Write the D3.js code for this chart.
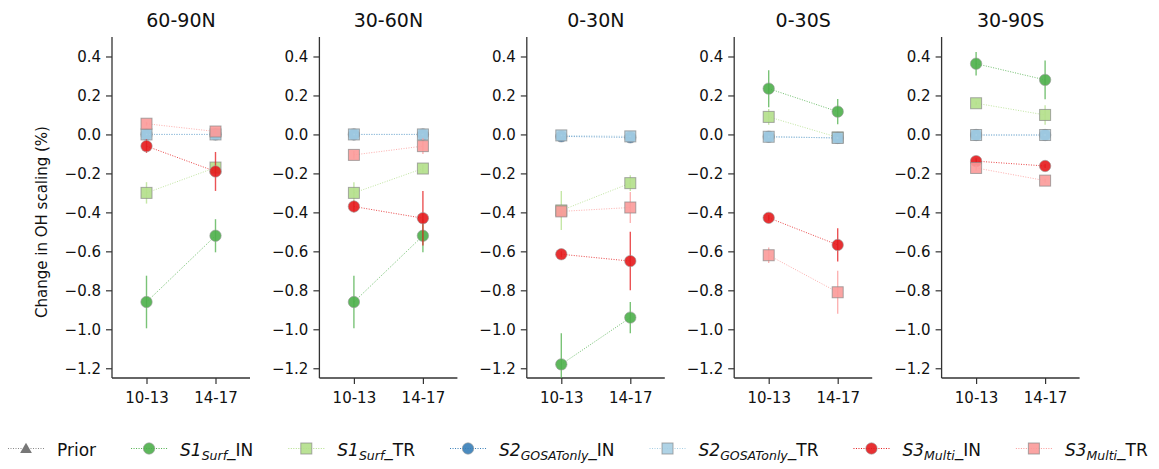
<!DOCTYPE html>
<html>
<head>
<meta charset="utf-8">
<script src="https://cdn.jsdelivr.net/npm/d3@7"></script>
<style>
  body { margin: 0; background: #fff; }
  text { font-family: 'DejaVu Sans', sans-serif; }
</style>
</head>
<body>
<div id="chart"></div>
<script>
// regions (one panel each) and periods (x categories)
let regions = ['60-90N', '30-60N', '0-30N', '0-30S', '30-90S']
let periods = ['10-13', '14-17']
let yTicks = [-1.2, -1.0, -0.8, -0.6, -0.4, -0.2, 0.0, 0.2, 0.4]

// values per region: [10-13, 14-17]
let s1SurfIN = [[-0.86, -0.52], [-0.86, -0.52], [-1.18, -0.94], [0.235, 0.117], [0.363, 0.28]]
let s1SurfINErr = [[0.135, 0.085], [0.135, 0.085], [0.16, 0.08], [0.095, 0.065], [0.06, 0.1]]
let s1SurfTR = [[-0.30, -0.17], [-0.30, -0.175], [-0.39, -0.25], [0.09, -0.015], [0.16, 0.10]]
let s1SurfTRErr = [[0.055, 0.02], [0.055, 0.02], [0.1, 0.04], [0.04, 0.01], [0.01, 0.05]]
let s2GosatIN = [[0.0, 0.0], [0.0, 0.0], [-0.01, -0.015], [-0.012, -0.018], [-0.003, -0.003]]
let s2GosatINErr = [[0.005, 0.005], [0.005, 0.005], [0.005, 0.005], [0.005, 0.005], [0.005, 0.005]]
let s2GosatTR = [[0.0, 0.0], [0.0, 0.0], [-0.005, -0.01], [-0.012, -0.018], [-0.003, -0.003]]
let s2GosatTRErr = [[0.005, 0.005], [0.005, 0.005], [0.005, 0.005], [0.005, 0.005], [0.005, 0.005]]
let s3MultiIN = [[-0.06, -0.19], [-0.37, -0.43], [-0.615, -0.65], [-0.428, -0.567], [-0.137, -0.162]]
let s3MultiINErr = [[0.035, 0.1], [0.03, 0.14], [0.015, 0.15], [0.015, 0.085], [0.015, 0.01]]
let s3MultiTR = [[0.055, 0.015], [-0.105, -0.06], [-0.395, -0.375], [-0.62, -0.81], [-0.172, -0.237]]
let s3MultiTRErr = [[0.01, 0.01], [0.02, 0.04], [0.03, 0.08], [0.04, 0.11], [0.015, 0.01]]

let series = [
  { base: 'S1', sub: 'Surf', tail: '_IN', shape: 'circle', color: '#4daf4a', values: s1SurfIN, err: s1SurfINErr },
  { base: 'S1', sub: 'Surf', tail: '_TR', shape: 'square', color: '#b2df8a', values: s1SurfTR, err: s1SurfTRErr },
  { base: 'S2', sub: 'GOSATonly', tail: '_IN', shape: 'circle', color: '#377eb8', values: s2GosatIN, err: s2GosatINErr },
  { base: 'S2', sub: 'GOSATonly', tail: '_TR', shape: 'square', color: '#a6cee3', values: s2GosatTR, err: s2GosatTRErr },
  { base: 'S3', sub: 'Multi', tail: '_IN', shape: 'circle', color: '#e41a1c', values: s3MultiIN, err: s3MultiINErr },
  { base: 'S3', sub: 'Multi', tail: '_TR', shape: 'square', color: '#fb9a99', values: s3MultiTR, err: s3MultiTRErr }
]

let W = 1159
let H = 469
let panelTop = 37
let panelBottom = 378
let panelWidth = 138
let panelStep = 207.4
let firstLeft = 112

let svg = d3.select('#chart')
  .append('svg')
  .attr('width', W)
  .attr('height', H)

let yScale = d3.scaleLinear().domain([-1.25, 0.5]).range([panelBottom, panelTop])
let xScale = d3.scalePoint().domain(periods).range([0, panelWidth]).padding(0.5)

function drawMarker(g, shape, color, x, y) {
  if (shape === 'circle') {
    g.append('circle')
      .attr('cx', x).attr('cy', y).attr('r', 5.7)
      .attr('fill', color).attr('fill-opacity', 0.9)
      .attr('stroke', '#999').attr('stroke-opacity', 0.6).attr('stroke-width', 1)
  } else if (shape === 'square') {
    g.append('rect')
      .attr('x', x - 5.5).attr('y', y - 5.5).attr('width', 11).attr('height', 11)
      .attr('fill', color).attr('fill-opacity', 0.9)
      .attr('stroke', '#888').attr('stroke-opacity', 0.7).attr('stroke-width', 1)
  } else {
    g.append('path')
      .attr('d', d3.symbol(d3.symbolTriangle, 60)())
      .attr('transform', 'translate(' + x + ',' + (y + 1) + ')')
      .attr('fill', '#777')
  }
}

regions.forEach((region, ri) => {
  let left = firstLeft + ri * panelStep
  let g = svg.append('g').attr('transform', 'translate(' + left + ',0)')

  let yAxis = d3.axisLeft(yScale)
    .tickValues(yTicks)
    .tickSize(6)
    .tickPadding(5)
    .tickFormat(d => d3.format('.1f')(d).replace('-', '\u2212'))

  g.append('g').attr('class', 'y-axis').call(yAxis)

  let xAxis = d3.axisBottom(xScale).tickSize(6).tickPadding(5)
  g.append('g')
    .attr('class', 'x-axis')
    .attr('transform', 'translate(0,' + panelBottom + ')')
    .call(xAxis)

  g.selectAll('.domain').remove()
  g.append('line').attr('x1', 0).attr('x2', 0).attr('y1', panelTop).attr('y2', panelBottom)
    .attr('stroke', '#333').attr('stroke-width', 1.3)
  g.append('line').attr('x1', 0).attr('x2', panelWidth).attr('y1', panelBottom).attr('y2', panelBottom)
    .attr('stroke', '#333').attr('stroke-width', 1.3)

  g.selectAll('.tick line').attr('stroke', '#333').attr('stroke-width', 1.2)
  g.selectAll('.tick text').attr('fill', '#111').style('font-size', '15px')
  g.selectAll('.x-axis .tick text').attr('dy', '0.9em')

  g.append('text')
    .attr('x', panelWidth / 2)
    .attr('y', 27)
    .attr('text-anchor', 'middle')
    .style('font-size', '19px')
    .attr('fill', '#111')
    .text(region)

  let clip = 'clip' + ri
  g.append('clipPath').attr('id', clip)
    .append('rect').attr('x', -10).attr('y', panelTop).attr('width', panelWidth + 20).attr('height', panelBottom - panelTop)

  let marks = g.append('g').attr('clip-path', 'url(#' + clip + ')')

  series.forEach(s => {
    let vals = s.values[ri]
    let errs = s.err[ri]
    let pts = periods.map((p, i) => ({ x: xScale(p), v: vals[i], e: errs[i] }))

    // error bars
    pts.forEach(d => {
      marks.append('line')
        .attr('x1', d.x).attr('x2', d.x)
        .attr('y1', yScale(d.v - d.e)).attr('y2', yScale(d.v + d.e))
        .attr('stroke', s.color).attr('stroke-opacity', 0.75).attr('stroke-width', 1.4)
    })

    // dotted connection
    marks.append('path')
      .datum(pts)
      .attr('d', d3.line().x(d => d.x).y(d => yScale(d.v)))
      .attr('fill', 'none')
      .attr('stroke', s.color)
      .attr('stroke-opacity', 0.8)
      .attr('stroke-width', 1)
      .attr('stroke-dasharray', '1,1.5')

    pts.forEach(d => drawMarker(marks, s.shape, s.color, d.x, yScale(d.v)))
  })
})

// y label
svg.append('text')
  .attr('transform', 'translate(47,222) rotate(-90)')
  .attr('text-anchor', 'middle')
  .style('font-size', '15px')
  .attr('fill', '#111')
  .text('Change in OH scaling (%)')

// legend
let legendItems = [{ plain: 'Prior', shape: 'triangle', color: '#888' }].concat(series)
let legendY = 448.5
let lx = 8
let legend = svg.append('g')

legendItems.forEach(item => {
  let lg = legend.append('g')
  lg.append('line')
    .attr('x1', lx).attr('x2', lx + 36)
    .attr('y1', legendY).attr('y2', legendY)
    .attr('stroke', item.color).attr('stroke-width', 1)
    .attr('stroke-dasharray', '1,1.5')
  drawMarker(lg, item.shape, item.color, lx + 18, legendY)

  let t = lg.append('text')
    .attr('x', lx + 49)
    .attr('y', legendY + 7.5)
    .style('font-size', '17px')
    .attr('fill', '#111')
  if (item.plain) {
    t.text(item.plain)
  } else {
    t.append('tspan').style('font-style', 'italic').text(item.base)
    t.append('tspan').style('font-style', 'italic').style('font-size', '12.5px')
      .attr('dy', 4).text(item.sub)
    t.append('tspan').attr('dy', -4).text(item.tail)
  }
  let tw = t.node().getComputedTextLength()
  lx = lx + 49 + tw + 35
})
</script>
</body>
</html>
